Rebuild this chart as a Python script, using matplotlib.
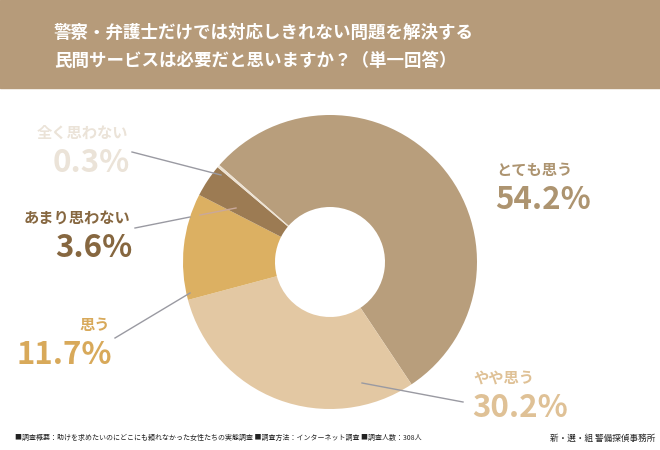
import matplotlib.pyplot as plt
from matplotlib.patches import Rectangle

plt.rcParams['font.family'] = ['Noto Sans CJK JP', 'DejaVu Sans']

# data
labels = ["とても思う", "やや思う", "思う", "あまり思わない", "全く思わない"]
values = [54.2, 30.2, 11.7, 3.6, 0.3]
colors = ["#b89e7c", "#e3c8a3", "#dcb062", "#9c7b53", "#ede2d2"]
text_colors = ["#ad9470", "#dfc196", "#d8a95a", "#866740", "#ebe3d8"]

title = "警察・弁護士だけでは対応しきれない問題を解決する\n民間サービスは必要だと思いますか？（単一回答）"
footer = "■調査概要：助けを求めたいのにどこにも頼れなかった女性たちの実態調査 ■調査方法：インターネット調査 ■調査人数：308人"
credit = "新・選・組 警備探偵事務所"

W, H = 660, 450
fig = plt.figure(figsize=(6.6, 4.5), dpi=100)
ax = fig.add_axes([0, 0, 1, 1])

# header band
ax.add_patch(Rectangle((0, H - 88), W, 88, color="#b69b7a", zorder=0))
ax.text(54, H - 47, title, color="white", fontsize=12.6, fontweight="bold",
        va="center", ha="left", linespacing=1.7)

cx, cy = 330, H - 262
ax.pie(values, colors=colors, startangle=138.8, counterclock=False,
       center=(cx, cy), radius=147,
       wedgeprops=dict(width=147 - 55, edgecolor="none"))

# label positions (pixel coords from top-left)
label_pos = [(496, 170, "left"), (473, 378, "left"), (110, 325, "right"),
             (130, 218, "right"), (128, 133, "right")]
for (x, y, ha), lab, v, c in zip(label_pos, labels, values, text_colors):
    ax.text(x, H - y, lab, color=c, fontsize=11, fontweight="bold", ha=ha, va="center")
    ax.text(x - 1 if ha == "left" else x + 2, H - y - 30, f"{v:.1f}%", color=c,
            fontsize=22.5, fontweight="bold", ha=ha, va="center")

# leader lines
lc = "#9a9aa2"
for (x0, y0), (x1, y1) in [((132, 152), (221, 175)), ((135, 228), (190, 217)),
                           ((115, 338), (190, 293)), ((362, 383), (463, 402))]:
    ax.plot([x0, x1], [H - y0, H - y1], color=lc, lw=1)
ax.plot([200, 236], [H - 215, H - 208], color="#c9a89a", lw=1)

ax.text(15, H - 438, footer, fontsize=5.0, ha="left", va="center", color="#222222")
ax.text(655, H - 438, credit, fontsize=6.2, ha="right", va="center", color="#222222")

ax.set_xlim(0, W)
ax.set_ylim(0, H)
ax.set_aspect("equal")
ax.axis("off")

fig.savefig("out.png", dpi=100)
